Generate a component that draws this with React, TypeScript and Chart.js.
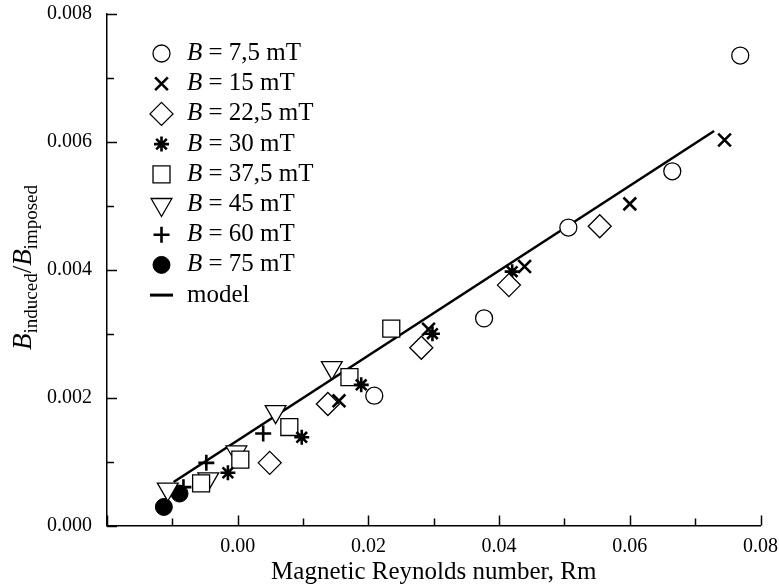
import React, { useEffect, useRef } from 'react';
import { Chart, registerables } from 'chart.js';
import { drawPoint } from 'chart.js/helpers';

Chart.register(...registerables);

const FONT = '"Liberation Serif", "Times New Roman", serif';

// Series labels (B field)
const seriesLabels = ['7,5 mT', '15 mT', '22,5 mT', '30 mT', '37,5 mT', '45 mT', '60 mT', '75 mT'];

// Magnetic Reynolds number (x) and Binduced/Bimposed (y) per series
const rm_7_5 = [0.0209, 0.0377, 0.0506, 0.0665, 0.0769];
const b_7_5 = [0.00203, 0.00324, 0.00466, 0.00554, 0.00735];

const rm_15 = [0.0155, 0.0292, 0.0439, 0.0600, 0.0745];
const b_15 = [0.00195, 0.00307, 0.00405, 0.00503, 0.00603];

const rm_22_5 = [0.0049, 0.0138, 0.0281, 0.0415, 0.0554];
const b_22_5 = [0.00098, 0.0019, 0.00278, 0.00376, 0.00468];

const rm_30 = [-0.0015, 0.0098, 0.0189, 0.0298, 0.0420];
const b_30 = [0.000825, 0.00138, 0.0022, 0.0030, 0.00397];

const rm_37_5 = [-0.0056, 0.0004, 0.0079, 0.0171, 0.0235];
const b_37_5 = [0.00066, 0.00103, 0.00154, 0.00232, 0.00308];

const rm_45 = [-0.0107, -0.0045, -0.0002, 0.0058, 0.0144];
const b_45 = [0.00057, 0.00073, 0.00115, 0.00178, 0.00247];

const rm_60 = [-0.0083, -0.0048, 0.0039];
const b_60 = [0.0006, 0.00098, 0.00144];

const rm_75 = [-0.0113, -0.0089];
const b_75 = [0.00029, 0.0005];

// Model line end points
const rm_model = [-0.0098, 0.0729];
const b_model = [0.00068, 0.00617];

const seriesX = [rm_7_5, rm_15, rm_22_5, rm_30, rm_37_5, rm_45, rm_60, rm_75];
const seriesY = [b_7_5, b_15, b_22_5, b_30, b_37_5, b_45, b_60, b_75];

// Marker styles
const markerStyles = [
  { pointStyle: 'circle', radius: 8.5, rotation: 0, bw: 1.3, fill: '#ffffff' },
  { pointStyle: 'crossRot', radius: 9, rotation: 0, bw: 2.6, fill: '#ffffff' },
  { pointStyle: 'rectRot', radius: 11.5, rotation: 0, bw: 1.3, fill: '#ffffff' },
  { pointStyle: 'star', radius: 7.5, rotation: 0, bw: 2.6, fill: '#ffffff' },
  { pointStyle: 'rect', radius: 12, rotation: 0, bw: 1.3, fill: '#ffffff' },
  { pointStyle: 'triangle', radius: 12, rotation: 180, bw: 1.3, fill: '#ffffff' },
  { pointStyle: 'cross', radius: 8, rotation: 0, bw: 2.6, fill: '#ffffff' },
  { pointStyle: 'circle', radius: 8.5, rotation: 0, bw: 1, fill: '#000000' },
];

const xTitle = 'Magnetic Reynolds number, Rm';

const toPoints = (xs: number[], ys: number[]) => xs.map((x, i) => ({ x, y: ys[i] }));

const legendPlugin = {
  id: 'customLegend',
  afterDraw(chart: any) {
    const ctx = chart.ctx as CanvasRenderingContext2D;
    const mx = 161.5;
    const tx = 187;
    const y0 = 53.5;
    const dy = 30.2;
    const fs = 25;
    chart.data.datasets.forEach((ds: any, i: number) => {
      const y = y0 + i * dy;
      ctx.save();
      if (ds.showLine) {
        ctx.strokeStyle = '#000';
        ctx.lineWidth = 3;
        ctx.beginPath();
        ctx.moveTo(mx - 11.5, y);
        ctx.lineTo(mx + 11.5, y);
        ctx.stroke();
        ctx.fillStyle = '#000';
        ctx.textBaseline = 'middle';
        ctx.textAlign = 'left';
        ctx.font = `${fs}px ${FONT}`;
        ctx.fillText('model', tx, y);
      } else {
        const st = markerStyles[i];
        ctx.fillStyle = st.fill;
        ctx.strokeStyle = '#000';
        ctx.lineWidth = st.bw;
        drawPoint(ctx, { pointStyle: st.pointStyle as any, radius: st.radius, rotation: st.rotation, borderWidth: st.bw }, mx, y);
        ctx.fillStyle = '#000';
        ctx.textBaseline = 'middle';
        ctx.textAlign = 'left';
        ctx.font = `italic ${fs}px ${FONT}`;
        ctx.fillText('B', tx, y);
        const w = ctx.measureText('B').width;
        ctx.font = `${fs}px ${FONT}`;
        ctx.fillText(' = ' + seriesLabels[i], tx + w, y);
      }
      ctx.restore();
    });
  },
};

const inwardTicksPlugin = {
  id: 'inwardTicks',
  beforeDatasetsDraw(chart: any) {
    const ctx = chart.ctx as CanvasRenderingContext2D;
    const xs = chart.scales.x;
    const ys = chart.scales.y;
    const area = chart.chartArea;
    ctx.save();
    ctx.strokeStyle = '#000';
    ctx.lineWidth = 1.5;
    xs.ticks.forEach((t: any) => {
      const n = Math.round(t.value * 100);
      const len = n % 2 === 0 ? 10 : 7;
      const px = Math.round(xs.getPixelForValue(t.value)) + 0.5;
      ctx.beginPath();
      ctx.moveTo(px, area.bottom);
      ctx.lineTo(px, area.bottom - len);
      ctx.stroke();
    });
    ys.ticks.forEach((t: any) => {
      const n = Math.round(t.value * 1000);
      const len = n % 2 === 0 ? 10 : 7;
      const py = Math.round(ys.getPixelForValue(t.value)) + 0.5;
      ctx.beginPath();
      ctx.moveTo(area.left, py);
      ctx.lineTo(area.left + len, py);
      ctx.stroke();
    });
    ctx.restore();
  },
};

const yTitlePlugin = {
  id: 'yTitle',
  afterDraw(chart: any) {
    const ctx = chart.ctx as CanvasRenderingContext2D;
    const big = 27;
    const small = 19;
    const parts = [
      { t: 'B', f: `italic ${big}px ${FONT}`, dy: 0 },
      { t: 'induced', f: `${small}px ${FONT}`, dy: 6 },
      { t: '/', f: `${big}px ${FONT}`, dy: 0 },
      { t: 'B', f: `italic ${big}px ${FONT}`, dy: 0 },
      { t: 'imposed', f: `${small}px ${FONT}`, dy: 6 },
    ];
    ctx.save();
    let total = 0;
    const widths = parts.map((p) => {
      ctx.font = p.f;
      const w = ctx.measureText(p.t).width;
      total += w;
      return w;
    });
    ctx.translate(31, 267.5);
    ctx.rotate(-Math.PI / 2);
    ctx.fillStyle = '#000';
    ctx.textBaseline = 'alphabetic';
    ctx.textAlign = 'left';
    let x = -total / 2;
    parts.forEach((p, i) => {
      ctx.font = p.f;
      ctx.fillText(p.t, x, p.dy);
      x += widths[i];
    });
    ctx.restore();
  },
};

export default function App() {
  const canvasRef = useRef<HTMLCanvasElement | null>(null);

  useEffect(() => {
    if (!canvasRef.current) return;
    const datasets: any[] = seriesX.map((xs, i) => {
      const st = markerStyles[i];
      return {
        label: 'B = ' + seriesLabels[i],
        data: toPoints(xs, seriesY[i]),
        pointStyle: st.pointStyle,
        pointRadius: st.radius,
        pointRotation: st.rotation,
        pointBorderWidth: st.bw,
        pointBorderColor: '#000',
        pointBackgroundColor: st.fill,
        borderColor: '#000',
        backgroundColor: st.fill,
        showLine: false,
      };
    });
    datasets.push({
      label: 'model',
      data: toPoints(rm_model, b_model),
      showLine: true,
      borderColor: '#000',
      borderWidth: 2.6,
      pointRadius: 0,
      fill: false,
    });

    const chart = new Chart(canvasRef.current, {
      type: 'scatter',
      data: { datasets },
      options: {
        animation: false,
        responsive: false,
        events: [],
        layout: { padding: { top: 14, right: 18.5, left: 0, bottom: 0 } },
        plugins: {
          legend: { display: false },
          tooltip: { enabled: false },
        },
        scales: {
          x: {
            type: 'linear',
            min: -0.02,
            max: 0.08,
            ticks: {
              stepSize: 0.01,
              autoSkip: false,
              maxRotation: 0,
              padding: 9,
              color: '#000',
              font: { family: FONT, size: 20 },
              callback: (v: any) => {
                const n = Math.round(Number(v) * 100);
                return n % 2 === 0 && n >= 0 ? (n / 100).toFixed(2) : '';
              },
            },
            grid: { display: false, drawTicks: false },
            border: { display: true, color: '#000', width: 1.5 },
            title: {
              display: true,
              text: xTitle,
              color: '#000',
              font: { family: FONT, size: 25 },
              padding: { top: 0, bottom: 1 },
            },
            afterFit: (s: any) => {
              s.height = 62.5;
              s.paddingLeft = 0;
              s.paddingRight = 0;
            },
          },
          y: {
            type: 'linear',
            min: 0,
            max: 0.008,
            ticks: {
              stepSize: 0.001,
              autoSkip: false,
              padding: 15,
              color: '#000',
              font: { family: FONT, size: 20 },
              callback: (v: any) => {
                const n = Math.round(Number(v) * 1000);
                return n % 2 === 0 ? (n / 1000).toFixed(3) : '';
              },
            },
            grid: { display: false, drawTicks: false },
            border: { display: true, color: '#000', width: 1.5 },
            afterFit: (s: any) => {
              s.width = 107;
              s.paddingTop = 0;
              s.paddingBottom = 0;
            },
          },
        },
      } as any,
      plugins: [inwardTicksPlugin, legendPlugin, yTitlePlugin],
    });
    return () => chart.destroy();
  }, []);

  return (
    <div style={{ position: 'absolute', left: 0, top: 0, width: 779, height: 588, background: '#fff' }}>
      <canvas ref={canvasRef} width={779} height={588} style={{ display: 'block' }} />
    </div>
  );
}
